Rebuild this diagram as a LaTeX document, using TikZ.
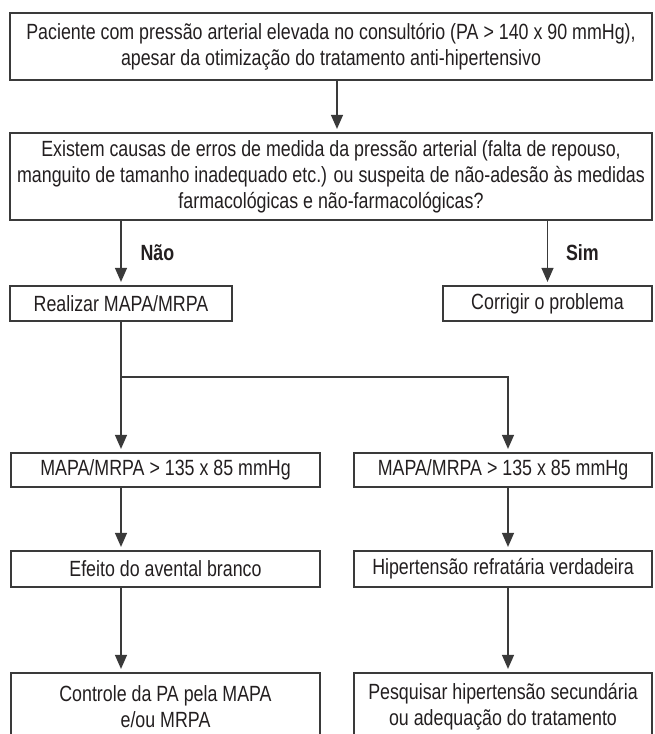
\documentclass[tikz,border=0pt]{standalone}
\usepackage{fontspec}
\setmainfont{Liberation Sans}[FakeStretch=0.81]
\usepackage{tikz}
\usetikzlibrary{arrows.meta,positioning,calc}
\definecolor{ink}{HTML}{231F20}
\definecolor{edge}{HTML}{3A3A3A}
\tikzset{
  % Caixas do fluxograma
  box/.style={draw=edge,line width=1.2pt,fill=white,align=center,inner sep=0pt,
              text=ink,font=\fontsize{22}{26}\selectfont},
  wide/.style={box,minimum width=642pt},
  half/.style={box,minimum width=309pt},
  halfr/.style={box,minimum width=298pt},
  % Conectores e rotulos
  fl/.style={-{Triangle[length=14pt,width=12pt]},edge,line width=1.2pt,shorten >=3.5pt},
  fllb/.style={font=\fontsize{22}{26}\selectfont\bfseries,text=ink,inner sep=0pt}
}

\begin{document}
\begin{tikzpicture}[x=1pt,y=-1pt]
  \useasboundingbox (0,0) rectangle (654,734);
  \clip (0,0) rectangle (654,734);

  % --- Nodes ---
  \node[wide,minimum height=67pt] (top) at (331,46.5)
    {Paciente com pressão arterial elevada no consultório (PA > 140 x 90 mmHg),\\
     apesar da otimização do tratamento anti-hipertensivo};
  \node[wide,minimum height=87pt] (quest) at (331,176.5)
    {Existem causas de erros de medida da pressão arterial (falta de repouso,\\
     manguito de tamanho inadequado etc.) ou suspeita de não-adesão às medidas\\
     farmacológicas e não-farmacológicas?};

  \node[box,minimum width=222pt,minimum height=35pt] (real) at (121,303.5) {Realizar MAPA/MRPA};
  \node[box,minimum width=209pt,minimum height=35pt] (corr) at (547.5,303.5) {Corrigir o problema};

  \node[half,minimum height=34pt]  (mapaL) at (165.5,470) {MAPA/MRPA > 135 x 85 mmHg};
  \node[halfr,minimum height=34pt] (mapaR) at (503,470)   {MAPA/MRPA > 135 x 85 mmHg};

  \node[half,minimum height=36pt]  (efL) at (165.5,569) {Efeito do avental branco};
  \node[halfr,minimum height=36pt] (efR) at (503,569)   {Hipertensão refratária verdadeira};

  \node[half,minimum height=67pt]  (ctrl) at (165.5,706.5) {Controle da PA pela MAPA\\e/ou MRPA};
  \node[halfr,minimum height=67pt] (pesq) at (503,706.5)   {Pesquisar hipertensão secundária\\ou adequação do tratamento};

  \coordinate (jn) at (121,377);

  % --- Connectors ---
  \draw[fl] ([xshift=6pt]top.south) -- ([xshift=6pt]quest.north);
  \draw[fl] (quest.south -| real.north) -- node[midway,right=19pt,fllb] {Não} (real.north);
  \draw[fl] (quest.south -| corr.north) -- node[midway,right=18pt,fllb] {Sim} (corr.north);

  % Ramificacao apos MAPA/MRPA
  \draw[edge,line width=1.2pt] (real.south) -- (jn);
  \draw[fl] (jn) -- (jn |- mapaL.north);
  \draw[fl] (jn) -| ([xshift=5pt]mapaR.north);

  % Colunas esquerda e direita
  \draw[fl] (jn |- mapaL.south) -- (jn |- efL.north);
  \draw[fl] (jn |- efL.south) -- (jn |- ctrl.north);
  \draw[fl] ([xshift=5pt]mapaR.south) -- ([xshift=5pt]efR.north);
  \draw[fl] ([xshift=5pt]efR.south) -- ([xshift=5pt]pesq.north);
\end{tikzpicture}
\end{document}
